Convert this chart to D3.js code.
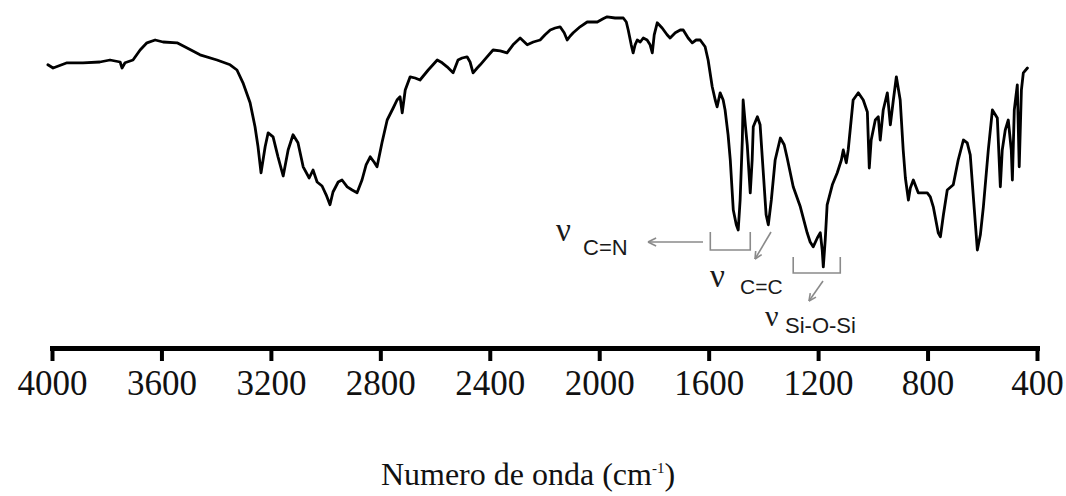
<!DOCTYPE html>
<html>
<head>
<meta charset="utf-8">
<script src="https://cdn.jsdelivr.net/npm/d3@7"></script>
<style>
  html, body { margin: 0; padding: 0; background: #fff; }
  svg { display: block; }
</style>
</head>
<body>
<svg id="chart" width="1066" height="496"></svg>
<script>
// Wavenumber (cm-1)
const wavenumber = [
  4015,3996,3945,3887,3825,3788,3751,3744,3733,3704,3678,3653,3623,3594,3543,3506,3459,3397,3349,3324,
  3302,3276,3258,3247,3236,3221,3210,3192,3174,3155,3137,3119,3101,3082,3060,3046,3031,3013,2998,2984,
  2973,2954,2940,2921,2903,2885,2867,2852,2837,2823,2812,2794,2775,2753,2739,2728,2720,2709,2691,2673,
  2655,2625,2592,2574,2556,2534,2516,2501,2483,2472,2461,2446,2435,2410,2388,2362,2337,2315,2289,2263,
  2241,2216,2198,2179,2161,2143,2128,2117,2106,2095,2070,2044,2007,1986,1971,1942,1912,1901,1894,1883,
  1876,1869,1861,1850,1839,1825,1814,1806,1799,1788,1770,1752,1741,1722,1704,1693,1675,1660,1646,1631,
  1613,1602,1587,1576,1569,1558,1547,1540,1529,1521,1510,1499,1492,1485,1477,1474,1466,1459,1448,1441,
  1437,1422,1412,1401,1390,1382,1371,1357,1338,1324,1313,1291,1265,1240,1229,1218,1203,1192,1185,1181,
  1174,1167,1148,1130,1115,1108,1097,1090,1072,1053,1035,1020,1013,1006,991,980,973,962,947,936,
  925,914,900,889,881,870,863,852,834,801,790,779,761,753,742,728,706,688,669,655,
  644,629,618,607,596,578,563,545,534,527,516,505,494,490,483,472,465,457,450,435
];
// Transmittance (arbitrary %)
const transmittance = [
  70.3,69.5,70.8,70.8,71,71.5,71,69.5,70.8,71.5,74,75.8,76.5,76,75.8,74.5,72.8,71.5,70.3,69,
  65.8,60.8,54.8,49.8,43.3,49.8,53.3,52.3,47.3,42.5,49,52.8,50.8,44.8,42,44,41,40,37.8,35.3,
  38.5,41,41.5,39.8,39,38.3,41.5,45.3,47.3,46,44.8,50.8,56.5,59.5,61.5,62.3,58.3,64,67.3,67,
  66.5,69,71.5,70.8,69.8,68.3,71.5,72,72.3,71,68.3,69.5,70.3,72.3,74,73.8,73.3,75.3,77,75.3,
  76,76.5,77.8,79,79.5,79.8,78.3,76.5,77.5,78.3,79.8,81,81,81.8,82.3,82,82,81,79,75.3,
  73.3,75.3,76.5,76,77,76.5,75.3,73.3,77.8,80.8,79.5,77.8,77,78.3,79,79,77,75.8,76.5,76.5,
  74.8,71.5,64.8,61.5,59.8,63.3,61.5,59,52.8,46.5,34,30.3,29,36.5,51.5,61.5,55.3,50.3,38.3,46.5,
  54.8,57.3,55.3,44,32.8,30.3,36.5,46.5,52,50.3,47,39.8,34.8,28.3,26,24.8,27,28.3,24,19.8,
  26.5,35.3,40.3,43.3,46.5,49,45.8,49,61.5,63.3,61.5,58.5,44.5,51.5,56.5,57.3,51.5,59,63.3,55.3,
  61.5,67.3,61.5,49,42,36.5,39.5,41.5,38.3,38.3,37.3,34.8,28.3,27.3,32.8,39,40.3,46.5,51.5,50.8,
  47.8,34,24,27.8,34.8,49,59,57,39.8,49,54,56.5,49,41.5,59,65.3,44.8,64,68.3,69.5
];
const tickValues = [4000, 3600, 3200, 2800, 2400, 2000, 1600, 1200, 800, 400];
const xTitle = "Numero de onda (cm";
const xTitleSup = "-1";
const annotations = [
  { nu: "ν", sub: "C=N" },
  { nu: "ν", sub: "C=C" },
  { nu: "ν", sub: "Si-O-Si" }
];

const svg = d3.select("#chart");
const x = d3.scaleLinear().domain([4000, 400]).range([52, 1037]);
const y = d3.scaleLinear().domain([0, 85]).range([346, 6]);
const axisY = 348;

const pts = wavenumber.map((w, i) => [w, transmittance[i]]);

// Spectrum
svg.append("path")
  .datum(pts)
  .attr("fill", "none")
  .attr("stroke", "#000")
  .attr("stroke-width", 2.8)
  .attr("stroke-linejoin", "round")
  .attr("stroke-linecap", "round")
  .attr("d", d3.line().x(d => x(d[0])).y(d => y(d[1])));

// Axis
const axis = d3.axisBottom(x)
  .tickValues(tickValues)
  .tickSize(13)
  .tickSizeOuter(0)
  .tickFormat(d3.format("d"));
const gAxis = svg.append("g")
  .attr("transform", `translate(0,${axisY})`)
  .call(axis);
gAxis.select(".domain").attr("stroke", "#000").attr("stroke-width", 5).attr("stroke-linecap", "square");
gAxis.selectAll(".tick line").attr("stroke", "#000").attr("stroke-width", 4);
gAxis.selectAll(".tick text")
  .attr("y", 47)
  .attr("dy", 0)
  .attr("fill", "#111")
  .style("font-family", "'Liberation Serif', 'Times New Roman', serif")
  .style("font-size", "35px");

// Axis title
const title = svg.append("text")
  .attr("x", 528)
  .attr("y", 485)
  .attr("text-anchor", "middle")
  .attr("fill", "#111")
  .style("font-family", "'Liberation Serif', 'Times New Roman', serif")
  .style("font-size", "32px");
title.append("tspan").text(xTitle);
title.append("tspan").attr("dy", -12).style("font-size", "15px").text(xTitleSup);
title.append("tspan").attr("dy", 12).text(")");

// Annotations
const gray = "#8a8a8a";
const ann = svg.append("g").attr("fill", "none").attr("stroke", gray).attr("stroke-width", 1.6);

// helper: arrow from p0 to p1 with open head at p1
function arrow(x0, y0, x1, y1, head) {
  ann.append("line").attr("x1", x0).attr("y1", y0).attr("x2", x1).attr("y2", y1);
  const a = Math.atan2(y1 - y0, x1 - x0);
  const h = head || 8;
  [a + Math.PI - 0.45, a + Math.PI + 0.45].forEach(t => {
    ann.append("line")
      .attr("x1", x1).attr("y1", y1)
      .attr("x2", x1 + h * Math.cos(t)).attr("y2", y1 + h * Math.sin(t));
  });
}
// C=N bracket and arrow
ann.append("path").attr("d", `M${x(1594)},232 V250 H${x(1448)} V232`);
arrow(703, 242, 648, 242, 9);
// C=C arrow
arrow(771, 232, 755, 259, 8);
// Si-O-Si bracket and arrow
ann.append("path").attr("d", `M${x(1291)},257 V273 H${x(1119)} V257`);
arrow(823, 281, 809, 301, 8);

const labelPos = [
  { nx: 556, ny: 241, nf: 33, sx: 583, sy: 255, sf: 22 },
  { nx: 710, ny: 287, nf: 33, sx: 740, sy: 294, sf: 21 },
  { nx: 765, ny: 326, nf: 30, sx: 785, sy: 333, sf: 22 }
];
annotations.forEach((a, i) => {
  const p = labelPos[i];
  svg.append("text")
    .attr("x", p.nx).attr("y", p.ny)
    .attr("fill", "#1a1a1a")
    .style("font-family", "'Liberation Serif', serif")
    .style("font-size", p.nf + "px")
    .text(a.nu);
  svg.append("text")
    .attr("x", p.sx).attr("y", p.sy)
    .attr("fill", "#1a1a1a")
    .style("font-family", "'Liberation Sans', Arial, sans-serif")
    .style("font-size", p.sf + "px")
    .text(a.sub);
});
</script>
</body>
</html>
